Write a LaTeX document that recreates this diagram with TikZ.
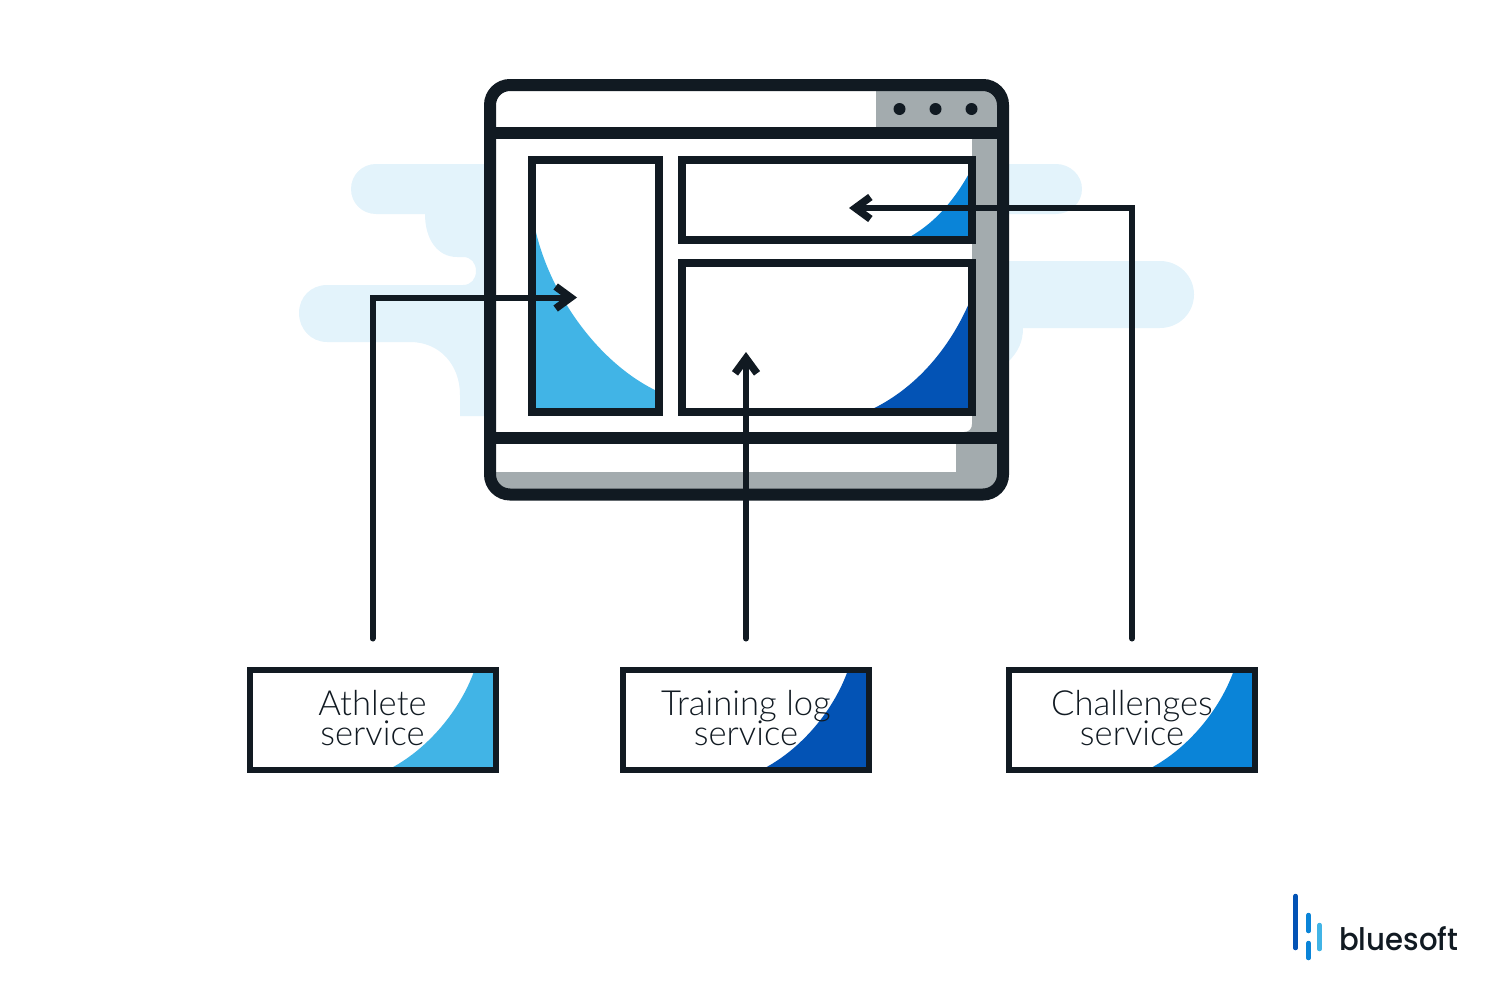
\documentclass[tikz,border=0pt]{standalone}
\usepackage{fontspec}
\setmainfont{Lato Light}
\newfontfamily\logofont{Poppins Medium}
\usepackage{xcolor}
\usetikzlibrary{arrows.meta,positioning}
\definecolor{ink}{HTML}{111A22}
\definecolor{sky}{HTML}{41B4E6}
\definecolor{azure}{HTML}{0A84D8}
\definecolor{cobalt}{HTML}{0353B5}
\definecolor{haze}{HTML}{E3F3FB}
\definecolor{slate}{HTML}{A3ABAE}
\newcommand{\servicefont}{\fontsize{34.6}{29.5}\selectfont\lineskiplimit=-20pt\relax}
\tikzset{
  panel/.style={draw=ink,fill=white,line width=8pt,inner sep=0pt},
  service/.style={
    draw=ink,fill=white,line width=6pt,inner sep=0pt,
    minimum width=246pt,minimum height=100pt,align=center,text=ink,text depth=4pt,
    font=\servicefont,
    path picture={\fill[#1] (path picture bounding box.south east) ++(-108,0)
      .. controls +(40,-20) and +(-14,40) .. ++(87,-100)
      -- (path picture bounding box.north east)
      -- (path picture bounding box.south east) -- cycle;}
  },
  flow/.style={
    draw=ink,line width=6pt,line cap=round,
    -{Straight Barb[length=15pt,width=22pt,line width=7.5pt,line cap=butt]}
  },
  logobar/.style={line width=4.5pt,line cap=round}
}
\begin{document}
\begin{tikzpicture}[x=1pt,y=-1pt]
  \useasboundingbox (0,0) rectangle (1493,998);
  % clouds
  \fill[haze] (490,164) -- (376,164) .. controls (362,164) and (351,175) .. (351,189)
    .. controls (351,203) and (362,214) .. (376,214) -- (425,214)
    .. controls (425,240) and (438,257) .. (457,257) -- (463,257)
    .. controls (471,257) and (476,263) .. (476,271)
    .. controls (476,279) and (471,285) .. (463,285) -- (327,285)
    .. controls (311,285) and (299,297) .. (299,313)
    .. controls (299,329) and (311,342) .. (327,342) -- (410,342)
    .. controls (440,342) and (460,365) .. (460,395) -- (460,416) -- (490,416) -- cycle;
  \fill[haze] (1000,164) -- (1056,164) .. controls (1070,164) and (1082,175) .. (1082,189)
    .. controls (1082,203) and (1070,214) .. (1056,214) -- (1000,214) -- cycle;
  \fill[haze] (1000,261) -- (1160,261) .. controls (1179,261) and (1194,276) .. (1194,294.5)
    .. controls (1194,313) and (1179,328) .. (1160,328) -- (1023,328)
    .. controls (1023,342) and (1018,352) .. (1008,362) -- (1000,362) -- cycle;
  % window
  \begin{scope}
    \clip[rounded corners=20pt] (490,85) rectangle (1003,494.5);
    \fill[white] (490,85) rectangle (1003,494.5);
    \fill[slate] (876,85) rectangle (1003,133);
    \fill[slate] (1003,133) -- (972,133) -- (972,424) .. controls (972,429) and (969,432) .. (964,432)
      -- (956,432) -- (956,472) -- (490,472) -- (490,494.5) -- (1003,494.5) -- cycle;
  \end{scope}
  \draw[ink,line width=12pt] (490,133) -- (1003,133);
  \draw[ink,line width=12pt] (490,438) -- (1003,438);
  \draw[ink,line width=12pt,rounded corners=20pt] (490,85) rectangle (1003,494.5);
  \foreach \dotx in {899.5,935.5,971.5}
    \fill[ink] (\dotx,109) circle (6pt);
  % panels
  \node[panel,minimum width=127.5pt,minimum height=252pt,
    path picture={\fill[sky] (path picture bounding box.south west) -- ++(0,-207)
      .. controls +(6,70) and +(-69,-32) .. ++(127.5,187)
      -- (path picture bounding box.south east) -- cycle;}] (sidepanel) at (595.25,286) {};
  \node[panel,minimum width=290pt,minimum height=80pt,
    right=15pt of sidepanel.north east,anchor=north west,
    path picture={\fill[azure] (path picture bounding box.south east) ++(-68,0)
      .. controls +(28,-14) and +(-18,34) .. ++(68,-72)
      -- (path picture bounding box.south east) -- cycle;}] (toppanel) {};
  \node[panel,minimum width=290pt,minimum height=149pt,below=15pt of toppanel,
    path picture={\fill[cobalt] (path picture bounding box.south east) ++(-106,0)
      .. controls +(50,-22) and +(-20,50) .. ++(106,-116)
      -- (path picture bounding box.south east) -- cycle;}] (mainpanel) {};
  % services
  \node[service=sky] (athlete) at (372.5,720) {Athlete\\service};
  \node[service=cobalt,right=121.5pt of athlete] (training) {Training log\\service};
  \node[service=azure,right=134pt of training] (challenges) {Challenges\\service};
  % flows
  \coordinate (athletein) at (577,297.5);
  \coordinate (trainingin) at (746,352);
  \coordinate (challengesin) at (849,208);
  \draw[flow,shorten <=28.5pt] (athlete.north) |- (athletein);
  \draw[flow,shorten <=28.5pt] (training.north) -- (trainingin);
  \draw[flow,shorten <=28.5pt] (challenges.north) |- (challengesin);
  % logo
  \draw[logobar,cobalt] (1295.5,896) -- (1295.5,948);
  \draw[logobar,azure] (1308.5,915) -- (1308.5,931);
  \draw[logobar,azure] (1308.5,943) -- (1308.5,958);
  \draw[logobar,sky] (1319.5,925) -- (1319.5,949);
  \node[inner sep=0pt,text=ink,font=\logofont\fontsize{31}{31}\selectfont,anchor=base west,xscale=.94] (logotext) at (1339,950) {bluesoft};
\end{tikzpicture}
\end{document}
